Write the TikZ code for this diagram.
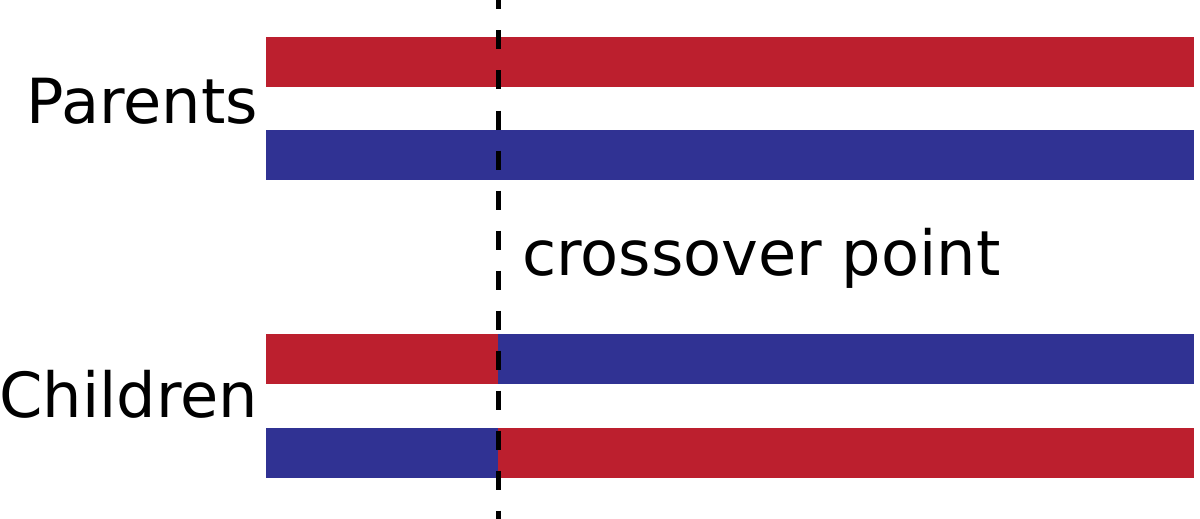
\documentclass[tikz,border=0pt]{standalone}
\usepackage{fontspec}
\setmainfont{DejaVu Sans}
\definecolor{barred}{RGB}{188,31,46}
\definecolor{barblue}{RGB}{48,50,147}
\tikzset{
  lbl/.style={inner sep=0pt, font=\fontsize{62.2}{74}\selectfont},
  redbar/.style={fill=barred},
  bluebar/.style={fill=barblue},
  cut/.style={line width=5pt, dash pattern=on 19pt off 21pt, dash phase=9.5pt}
}
\begin{document}
\begin{tikzpicture}[x=1pt,y=-1pt]
\useasboundingbox (0,0) rectangle (1200,519);
% parents
\fill[redbar] (266,37) rectangle (1194,87);
\fill[bluebar] (266,130) rectangle (1194,180);
% children
\fill[redbar] (266,334) rectangle (498,384);
\fill[bluebar] (498,334) rectangle (1194,384);
\fill[bluebar] (266,428) rectangle (498,478);
\fill[redbar] (498,428) rectangle (1194,478);
% labels
\node[lbl, anchor=base east] (parents) at (258,124) {Parents};
\node[lbl, anchor=base east] (children) at (258.5,417) {Children};
\node[lbl, anchor=base west] (cp) at (522,275) {crossover point};
% crossover line
\coordinate (ctop) at (498,0);
\coordinate (cbot) at (498,519);
\draw[cut] (ctop) -- (cbot);
\end{tikzpicture}
\end{document}
